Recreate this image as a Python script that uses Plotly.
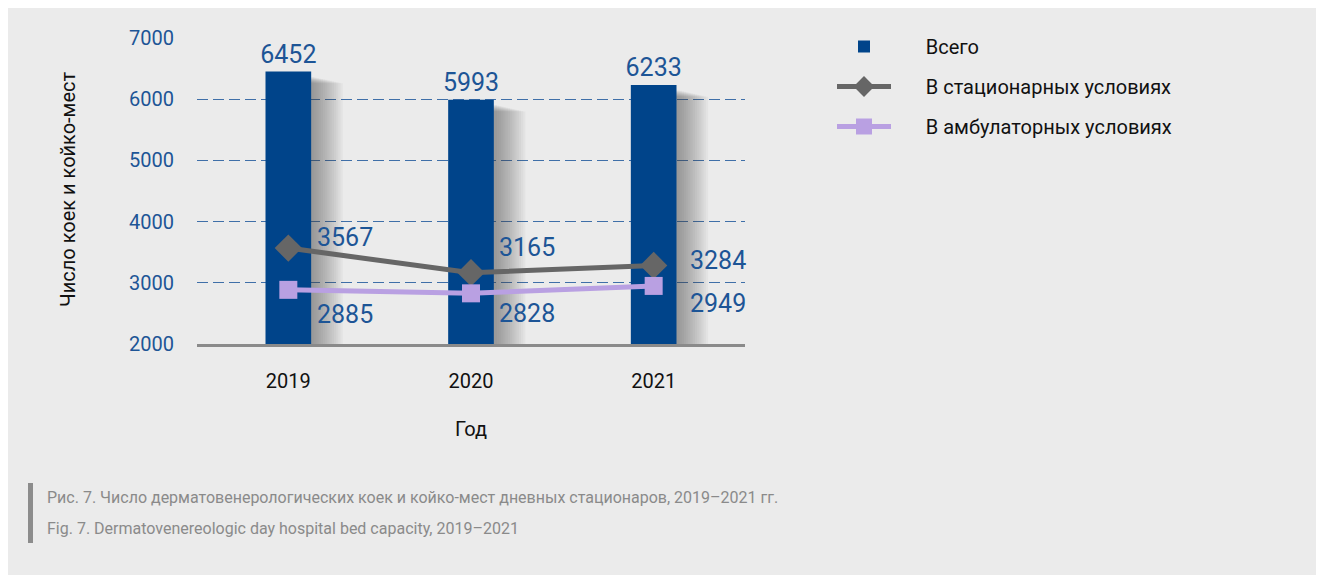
import plotly.graph_objects as go

years = ["2019", "2020", "2021"]
total = [6452, 5993, 6233]
inpatient = [3567, 3165, 3284]
outpatient = [2885, 2828, 2949]

series_names = ["Всего", "В стационарных условиях", "В амбулаторных условиях"]
y_title = "Число коек и койко-мест"
x_title = "Год"
caption_ru = "Рис. 7. Число дерматовенерологических коек и койко-мест дневных стационаров, 2019–2021 гг."
caption_en = "Fig. 7. Dermatovenereologic day hospital bed capacity, 2019–2021"

FONT = "Roboto, Liberation Sans Narrow, sans-serif"
BLUE = "#00448a"
LBLUE = "#1d5596"

# screen geometry (page body has an 8px margin)
OFF = 8
W, H = 1332, 575
L, R, T, B = 197, 745, 38, 344  # plot area in screen pixels


def px_x(px):
    return (px - L) / (R - L)


def px_y(py):
    return (B - py) / (B - T)


fig = go.Figure()

# soft drop shadows to the right of bars (stacked translucent layers)
bw = 0.25
n_layers = 14
for k in range(1, n_layers + 1):
    fig.add_trace(go.Bar(
        x=years, y=[v - 2000 - 80 - 8 * k for v in total], base=2000,
        width=bw + 0.012 * k, offset=-bw / 2 + 0.005,
        marker=dict(color="rgba(70,70,70,0.045)", line=dict(width=0)),
        showlegend=False, hoverinfo="skip",
    ))

pad = "\u00a0" * 6
fig.add_trace(go.Bar(
    x=years, y=[v - 2000 for v in total], base=2000, width=bw,
    marker=dict(color=BLUE, line=dict(width=0)),
    name=pad + series_names[0], legendgroup="a", legendrank=1,
    text=[str(v) for v in total], textposition="outside", constraintext="none",
    textfont=dict(color=LBLUE, size=25, family=FONT), cliponaxis=False,
))

fig.add_trace(go.Scatter(
    x=years, y=inpatient, mode="lines+markers",
    line=dict(color="#666666", width=5),
    marker=dict(symbol="diamond", size=21, color="#666666"),
    name=pad + series_names[1], legendgroup="b", legendrank=2,
))
fig.add_trace(go.Scatter(
    x=years, y=outpatient, mode="lines+markers",
    line=dict(color="#b9a0e2", width=5),
    marker=dict(symbol="square", size=18, color="#b9a0e2"),
    name=pad + series_names[2], legendgroup="c", legendrank=3,
))

# point labels
shifts_in = [(57, 11), (56, 25), (64, 5)]
shifts_out = [(57, -25), (56, -20), (64, -18)]
for i, yr in enumerate(years):
    fig.add_annotation(x=i, y=inpatient[i], text=str(inpatient[i]), showarrow=False,
                       xshift=shifts_in[i][0], yshift=shifts_in[i][1],
                       xanchor="center", yanchor="middle",
                       font=dict(color=LBLUE, size=25, family=FONT))
    fig.add_annotation(x=i, y=outpatient[i], text=str(outpatient[i]), showarrow=False,
                       xshift=shifts_out[i][0], yshift=shifts_out[i][1],
                       xanchor="center", yanchor="middle",
                       font=dict(color=LBLUE, size=25, family=FONT))

# axis titles
fig.add_annotation(xref="paper", yref="paper", x=px_x(68), y=px_y(189), text=y_title,
                   textangle=-90, showarrow=False, xanchor="center", yanchor="middle",
                   font=dict(size=20, color="#111", family=FONT))
fig.add_annotation(xref="paper", yref="paper", x=px_x(471), y=px_y(429), text=x_title,
                   showarrow=False, xanchor="center", yanchor="middle",
                   font=dict(size=20, color="#111", family=FONT))

# caption
fig.add_shape(type="rect", xref="paper", yref="paper", x0=px_x(28), x1=px_x(33),
              y0=px_y(483), y1=px_y(543), fillcolor="#8c8c8c", line=dict(width=0))
fig.add_annotation(xref="paper", yref="paper", x=px_x(45), y=px_y(497), text=caption_ru,
                   xanchor="left", yanchor="middle", showarrow=False,
                   font=dict(size=16, color="#8a8a8a", family=FONT))
fig.add_annotation(xref="paper", yref="paper", x=px_x(45), y=px_y(528), text=caption_en,
                   xanchor="left", yanchor="middle", showarrow=False,
                   font=dict(size=16, color="#8a8a8a", family=FONT))

fig.update_layout(
    width=W, height=H,
    margin=dict(l=L - OFF, r=W - (R - OFF), t=T - OFF, b=H - (B - OFF)),
    paper_bgcolor="#ebebeb", plot_bgcolor="#ebebeb",
    barmode="overlay",
    font=dict(family=FONT),
    legend=dict(x=px_x(832), y=px_y(27), xanchor="left", yanchor="top",
                bgcolor="rgba(0,0,0,0)", font=dict(size=20, color="#111", family=FONT),
                traceorder="grouped", tracegroupgap=11, itemwidth=54),
    xaxis=dict(type="category", range=[-0.5, 2.5], showgrid=False, showline=True,
               linecolor="#8a8a8a", linewidth=3,
               ticks="outside", ticklen=17, tickcolor="rgba(0,0,0,0)",
               tickfont=dict(size=20, color="#111", family=FONT)),
    yaxis=dict(range=[2000, 7000], dtick=1000, showgrid=True, gridcolor="#3f6fa8",
               griddash="11px,5px", gridwidth=1.2, zeroline=False, showline=False,
               ticks="outside", ticklen=18, tickcolor="rgba(0,0,0,0)",
               tickfont=dict(size=20, color=LBLUE, family=FONT)),
    showlegend=True,
)

fig.write_html("out.html")
